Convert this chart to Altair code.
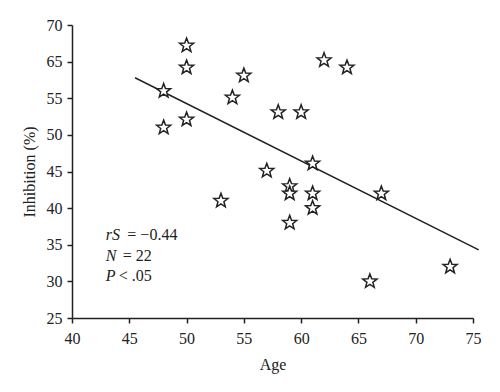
import math
import altair as alt
import pandas as pd

# ---- data ----
age = [48, 48, 50, 50, 50, 54, 55, 53, 62, 64, 58, 60, 57, 61, 59, 59, 61, 67, 61, 59, 66, 73]
inhibition = [56, 51, 62.2, 59.2, 52.1, 55.1, 58.1, 41, 60.2, 59.2, 53.1, 53.1, 45.1, 46.1,
              43, 42, 42, 42, 40, 38, 30, 32]
line_age = [45.5, 75.5]
line_inh = [57.8, 34.3]
x_ticks = [40, 45, 50, 55, 60, 65, 70, 75]
y_ticks = [25, 30, 35, 40, 45, 50, 55, 60, 65]
ann_italic = ["rS", "N", "P"]
ann_rest = ["= \u22120.44", "= 22", "< .05"]
ann_x_italic = [42.94, 42.94, 42.94]
ann_x_rest = [44.83, 44.42, 44.08]
ann_y = [36.27, 33.4, 30.7]

# ---- star shape (unit path) ----
pts = []
for k in range(10):
    ang = math.radians(-90 + 36 * k)
    r = 1.0 if k % 2 == 0 else 0.42
    pts.append((r * math.cos(ang), r * math.sin(ang)))
star_path = "M" + " L".join(f"{px:.4f},{py:.4f}" for px, py in pts) + " Z"

FONT = "Liberation Serif"
INK = "#222222"

pts_df = pd.DataFrame({"age": age, "inh": inhibition})
line_df = pd.DataFrame({"age": line_age, "inh": line_inh})
ann_i_df = pd.DataFrame({"age": ann_x_italic, "inh": ann_y, "t": ann_italic})
ann_r_df = pd.DataFrame({"age": ann_x_rest, "inh": ann_y, "t": ann_rest})

xs = alt.Scale(domain=[40, 75], nice=False, zero=False)
ys = alt.Scale(domain=[25, 65], nice=False, zero=False)
x_axis = alt.Axis(values=x_ticks, title="Age", titlePadding=10,
                  labelPadding=7, labelOverlap=False, labelFlush=False)
y_axis = alt.Axis(values=y_ticks, title="Inhibition (%)", titlePadding=9, labelPadding=5,
                  labelOverlap=False, labelFlush=False,
                  labelExpr="datum.value >= 60 ? '' + (datum.value + 5) : datum.label")
X = alt.X("age:Q", scale=xs, axis=x_axis)
Y = alt.Y("inh:Q", scale=ys, axis=y_axis)

points = alt.Chart(pts_df).mark_point(
    shape=star_path, size=220, filled=True, fill="white", stroke=INK, strokeWidth=1.5, opacity=1
).encode(x=X, y=Y)

line = alt.Chart(line_df).mark_line(color=INK, strokeWidth=1.5).encode(x=X, y=Y)

ann_i = alt.Chart(ann_i_df).mark_text(
    font=FONT, fontSize=16, fontStyle="italic", align="left", baseline="middle", color=INK
).encode(x=X, y=Y, text="t:N")

ann_r = alt.Chart(ann_r_df).mark_text(
    font=FONT, fontSize=16, align="left", baseline="middle", color=INK
).encode(x=X, y=Y, text="t:N")

chart = alt.layer(line, points, ann_i, ann_r).properties(
    width=401, height=293,
    autosize=alt.AutoSizeParams(type="none"),
    padding={"left": 64, "top": 17, "right": 10, "bottom": 60},
).configure_view(stroke=None).configure_axis(
    grid=False, domainColor=INK, domainWidth=1.5, tickColor=INK, tickWidth=1.5, tickSize=5,
    labelFont=FONT, labelFontSize=16, labelColor=INK,
    titleFont=FONT, titleFontSize=16, titleFontWeight="normal", titleColor=INK,
)

chart.save("out.html", embed_options={"renderer": "svg", "actions": False})
